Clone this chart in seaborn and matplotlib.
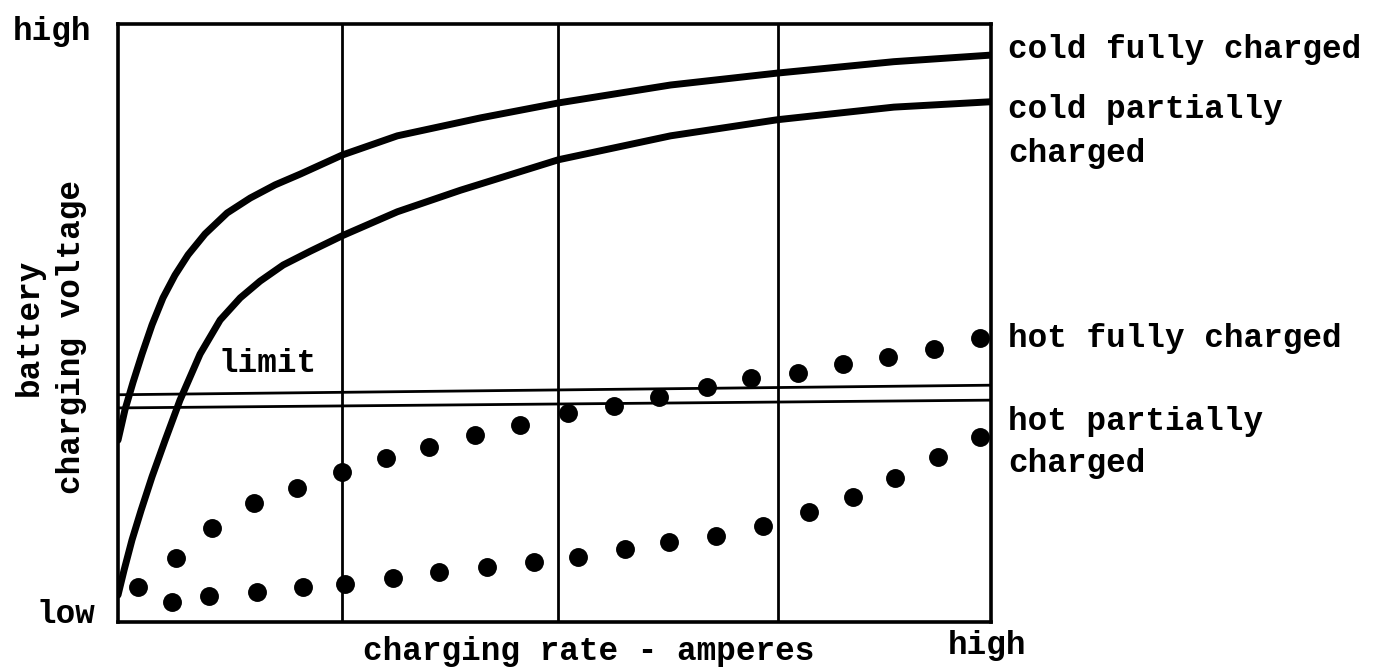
import pandas as pd
import seaborn as sns
import matplotlib.pyplot as plt

# Values.
# charging rate: 0 = low ... 4 = high, voltage: 0 = low ... 10 = high
cold_full_x = [0.000, 0.032, 0.069, 0.110, 0.156, 0.206, 0.261, 0.321, 0.399, 0.500,
               0.606, 0.720, 0.835, 1.028, 1.280, 1.661, 2.018, 2.532, 3.023, 3.555, 4.000]
cold_full_y = [3.04, 3.55, 4.01, 4.48, 4.97, 5.42, 5.80, 6.14, 6.49, 6.84,
               7.09, 7.31, 7.49, 7.81, 8.13, 8.43, 8.68, 8.98, 9.18, 9.37, 9.48]

cold_part_x = [0.000, 0.028, 0.064, 0.106, 0.156, 0.216, 0.284, 0.376, 0.468, 0.560,
               0.651, 0.757, 0.881, 1.028, 1.280, 1.569, 2.018, 2.532, 3.023, 3.555, 4.000]
cold_part_y = [0.45, 0.87, 1.37, 1.87, 2.43, 3.04, 3.71, 4.48, 5.05, 5.42,
               5.70, 5.97, 6.20, 6.46, 6.86, 7.22, 7.73, 8.13, 8.40, 8.61, 8.70]

hot_full_x = [0.092, 0.266, 0.431, 0.624, 0.821, 1.028, 1.229, 1.427, 1.638, 1.844,
              2.060, 2.271, 2.477, 2.697, 2.899, 3.115, 3.321, 3.528, 3.739, 3.950]
hot_full_y = [0.59, 1.07, 1.57, 1.99, 2.24, 2.51, 2.74, 2.93, 3.13, 3.29,
              3.49, 3.61, 3.76, 3.93, 4.08, 4.16, 4.31, 4.43, 4.57, 4.75]

hot_part_x = [0.248, 0.417, 0.638, 0.849, 1.041, 1.261, 1.472, 1.693, 1.904, 2.106,
              2.321, 2.523, 2.739, 2.954, 3.165, 3.367, 3.560, 3.757, 3.950]
hot_part_y = [0.33, 0.43, 0.50, 0.59, 0.64, 0.74, 0.84, 0.92, 1.00, 1.09,
              1.22, 1.34, 1.44, 1.61, 1.84, 2.09, 2.41, 2.76, 3.09]

# two thin "limit" lines (end points)
limit_x = [0.0, 4.0]
limit_upper_y = [3.80, 3.96]
limit_lower_y = [3.58, 3.71]

grid_x = [1.028, 2.018, 3.023]

W, H = 1382, 671


def fxy(px, py):
    # pixel position on the page -> figure fraction
    return px / W, 1 - py / H


curves = pd.concat([
    pd.DataFrame({'rate': cold_full_x, 'volt': cold_full_y, 'state': 'cold fully'}),
    pd.DataFrame({'rate': cold_part_x, 'volt': cold_part_y, 'state': 'cold partially'}),
])
dots = pd.concat([
    pd.DataFrame({'rate': hot_full_x, 'volt': hot_full_y, 'state': 'hot fully'}),
    pd.DataFrame({'rate': hot_part_x, 'volt': hot_part_y, 'state': 'hot partially'}),
])
limits = pd.concat([
    pd.DataFrame({'rate': limit_x, 'volt': limit_upper_y, 'line': 'upper'}),
    pd.DataFrame({'rate': limit_x, 'volt': limit_lower_y, 'line': 'lower'}),
])

sns.set_theme(style='white')
plt.rcParams['font.family'] = ['Liberation Mono', 'DejaVu Sans Mono']

fig = plt.figure(figsize=(W / 100, H / 100), dpi=100)
ax = fig.add_axes([118 / W, 1 - 622 / H, (991 - 118) / W, (622 - 24) / H])

sns.lineplot(data=limits, x='rate', y='volt', units='line', estimator=None, sort=False,
             color='black', linewidth=2, ax=ax)
sns.lineplot(data=curves, x='rate', y='volt', units='state', estimator=None, sort=False,
             color='black', linewidth=5, solid_capstyle='round', solid_joinstyle='round',
             ax=ax)
sns.scatterplot(data=dots, x='rate', y='volt', color='black', s=185, linewidth=0,
                legend=False, ax=ax, zorder=5)

ax.set_xlim(0, 4)
ax.set_ylim(0, 10)
ax.set_xticks(grid_x)
ax.set_yticks([])
ax.tick_params(length=0, labelbottom=False)
ax.grid(axis='x', color='black', linewidth=2)
ax.set_xlabel('')
ax.set_ylabel('')
for sp in ax.spines.values():
    sp.set_color('black')
    sp.set_linewidth(2.6)

fs = 23.5
txt = dict(fontsize=fs, color='black', fontweight='bold', va='baseline')

# axis end labels
fig.text(*fxy(13, 40), 'high', ha='left', **txt)
fig.text(*fxy(37, 623), 'low', ha='left', **txt)
fig.text(*fxy(948, 654), 'high', ha='left', **txt)
fig.text(*fxy(363, 660), 'charging rate - amperes', ha='left', **txt)

# rotated y label, two lines
fig.text(*fxy(38, 327), 'battery', ha='center', rotation=90, rotation_mode='anchor', **txt)
fig.text(*fxy(80, 337), 'charging voltage', ha='center', rotation=90,
         rotation_mode='anchor', **txt)

# series labels at the right
fig.text(*fxy(1008, 58), 'cold fully charged', ha='left', **txt)
fig.text(*fxy(1008, 118), 'cold partially', ha='left', **txt)
fig.text(*fxy(1008, 162), 'charged', ha='left', **txt)
fig.text(*fxy(1008, 347), 'hot fully charged', ha='left', **txt)
fig.text(*fxy(1008, 430), 'hot partially', ha='left', **txt)
fig.text(*fxy(1008, 472), 'charged', ha='left', **txt)

fig.text(*fxy(218, 372), 'limit', ha='left', **txt)

fig.savefig('out.png', dpi=100)
plt.close(fig)
